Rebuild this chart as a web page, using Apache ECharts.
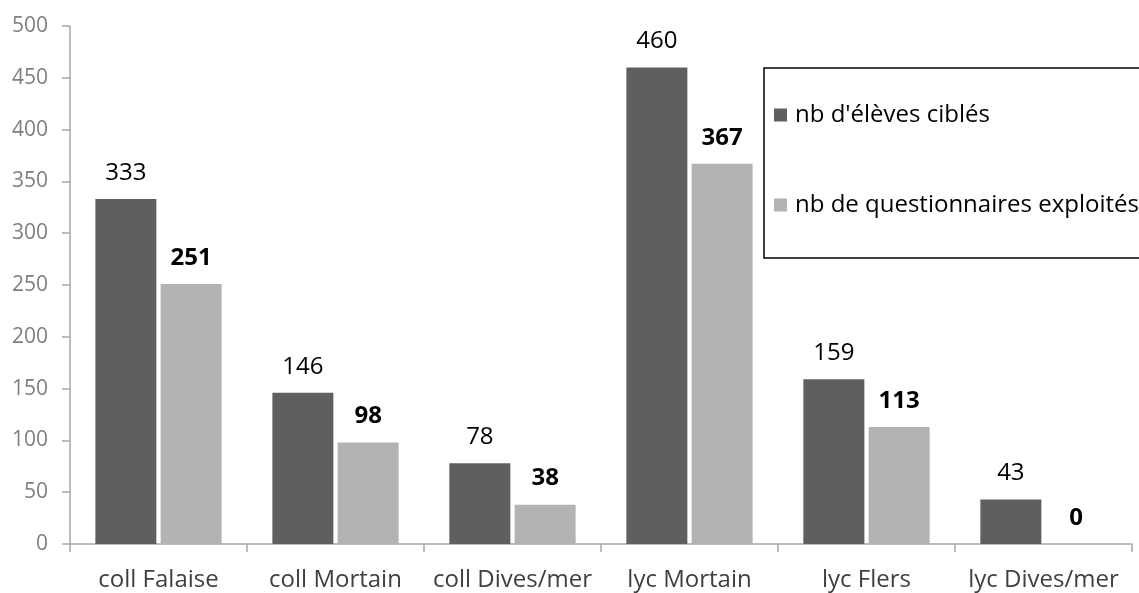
<!DOCTYPE html>
<html>
<head>
<meta charset="utf-8">
<script src="https://cdn.jsdelivr.net/npm/echarts@6/dist/echarts.min.js"></script>
<style>
  html, body { margin: 0; padding: 0; background: #fff; }
  #chart { width: 1139px; height: 593px; }
</style>
</head>
<body>
<div id="chart"></div>
<script>
// Établissements
const categories = ['coll Falaise', 'coll Mortain', 'coll Dives/mer', 'lyc Mortain', 'lyc Flers', 'lyc Dives/mer'];
// Effectifs par établissement
const elevesCibles = [333, 146, 78, 460, 159, 43];
const questionnairesExploites = [251, 98, 38, 367, 113, 0];
// Graduations de l'axe des valeurs
const yMin = 0, yMax = 500, yStep = 50;

const FONT = '"Open Sans", sans-serif';
const chart = echarts.init(document.getElementById('chart'), null, { renderer: 'canvas' });

chart.setOption({
  animation: false,
  backgroundColor: '#ffffff',
  textStyle: { fontFamily: FONT },
  grid: { left: 70, right: 7, top: 26, bottom: 49, containLabel: false },
  legend: {
    orient: 'vertical',
    left: 764,
    top: 68,
    padding: [35, 14, 41, 10],
    itemGap: 66,
    itemWidth: 13,
    itemHeight: 13,
    icon: 'rect',
    borderColor: '#000000',
    borderWidth: 1.5,
    textStyle: { fontFamily: FONT, fontSize: 24, color: '#000000', padding: [0, 0, 0, 3] },
    data: ["nb d'élèves ciblés", 'nb de questionnaires exploités']
  },
  xAxis: {
    type: 'category',
    data: categories,
    axisLine: { show: true, lineStyle: { color: '#a6a6a6', width: 1.5 } },
    axisTick: { show: true, interval: 0, alignWithLabel: false, length: 8, lineStyle: { color: '#a6a6a6', width: 1.5 } },
    axisLabel: { interval: 0, fontFamily: FONT, fontSize: 24, color: '#404040', margin: 24 },
    splitLine: { show: false }
  },
  yAxis: {
    type: 'value',
    min: yMin,
    max: yMax,
    interval: yStep,
    axisLine: { show: true, lineStyle: { color: '#a6a6a6', width: 1.5 } },
    axisTick: { show: true, inside: false, length: 8, lineStyle: { color: '#a6a6a6', width: 1.5 } },
    axisLabel: { fontFamily: FONT, fontSize: 21, color: '#7f7f7f', margin: 22 },
    splitLine: { show: false }
  },
  series: [
    {
      name: "nb d'élèves ciblés",
      type: 'bar',
      data: elevesCibles,
      barWidth: 61,
      barGap: '7%',
      itemStyle: { color: '#5f5f5f' },
      label: {
        show: true,
        position: 'top',
        distance: 14,
        fontFamily: FONT,
        fontSize: 24,
        color: '#000000'
      }
    },
    {
      name: 'nb de questionnaires exploités',
      type: 'bar',
      data: questionnairesExploites,
      barWidth: 61,
      itemStyle: { color: '#b3b3b3' },
      label: {
        show: true,
        position: 'top',
        distance: 14,
        fontFamily: FONT,
        fontSize: 24,
        fontWeight: 'bold',
        color: '#000000'
      }
    }
  ]
});
</script>
</body>
</html>
